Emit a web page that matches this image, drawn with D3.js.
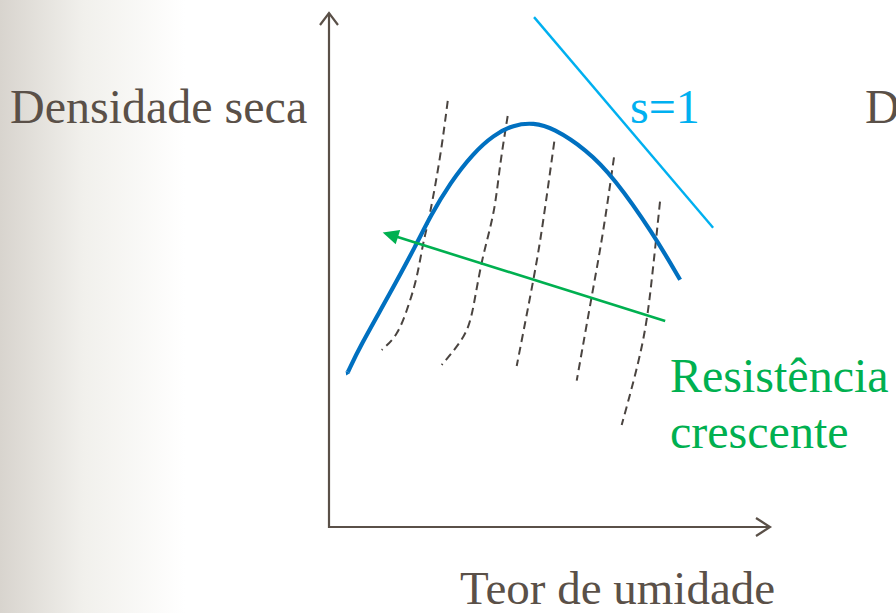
<!DOCTYPE html>
<html><head><meta charset="utf-8">
<script src="https://cdn.jsdelivr.net/npm/d3@7"></script>
<style>html,body{margin:0;padding:0;overflow:hidden;background:#fff}</style>
</head><body>
<svg id="c" width="896" height="613"></svg>
<script>
// Compaction curve (moisture %, dry density) – schematic units 0..100
const curveX = [4.3, 7.0, 13.9, 20.0, 23.0, 27.5, 32.8, 37.4, 41.9, 46.5, 50.9, 58.6, 64.6, 73.6, 79.8];
const curveY = [30.1, 35.0, 45.4, 55.1, 60.3, 66.8, 72.6, 76.1, 78.1, 78.5, 77.5, 73.2, 68.0, 57.1, 48.0];
// Saturation line s=1
const satX = [46.6, 87.3];
const satY = [99.0, 58.1];
// Increasing-strength arrow (from -> to)
const arrowX = [76.4, 12.2];
const arrowY = [40.0, 57.2];
// Iso-strength dashed curves
const isoX = [
  [26.98, 25.23, 22.95, 21.43, 19.93, 17.95, 15.39, 11.98],
  [40.61, 38.86, 37.34, 34.84, 32.80, 30.52, 25.61],
  [51.2, 48.7, 46.43, 42.66],
  [64.77, 62.34, 59.70, 56.3],
  [75.23, 73.34, 71.07, 66.52]
];
const isoY = [
  [82.72, 71.9, 60.97, 55.09, 48.6, 42.78, 37.61, 34.37],
  [79.81, 69.96, 60.91, 51.84, 42.78, 36.95, 31.46],
  [74.82, 59.61, 47.96, 31.26],
  [71.79, 57.67, 44.72, 28.41],
  [63.17, 47.96, 35.01, 19.81]
];
const labels = {
  y: "Densidade seca",
  x: "Teor de umidade",
  sat: "s=1",
  res1: "Resistência",
  res2: "crescente",
  cut: "D"
};

const svg = d3.select("#c");
const ink = "#5a5048";
const font = "Liberation Serif, Times New Roman, serif";

// background gradient
const defs = svg.append("defs");
const g = defs.append("linearGradient").attr("id","bg").attr("x1","0").attr("x2","1").attr("y1","0").attr("y2","0");
g.append("stop").attr("offset","0").attr("stop-color","#d8d4ce");
g.append("stop").attr("offset","0.45").attr("stop-color","#f1f0ec");
g.append("stop").attr("offset","1").attr("stop-color","#ffffff");
svg.append("rect").attr("width",896).attr("height",613).attr("fill","#fff");
svg.append("rect").attr("width",185).attr("height",613).attr("fill","url(#bg)");

const x = d3.scaleLinear().domain([0,100]).range([329,769]);
const y = d3.scaleLinear().domain([0,100]).range([527,12]);

// axes
svg.append("line").attr("x1",x(0)).attr("x2",x(0)).attr("y1",y(0)+1).attr("y2",y(100)+1)
  .attr("stroke",ink).attr("stroke-width",2.2);
svg.append("line").attr("x1",x(0)-1).attr("x2",x(100)).attr("y1",y(0)).attr("y2",y(0))
  .attr("stroke",ink).attr("stroke-width",2.2);
svg.append("path").attr("d",`M${x(0)-9},${y(100)+13}L${x(0)},${y(100)+1}L${x(0)+9},${y(100)+13}`)
  .attr("fill","none").attr("stroke",ink).attr("stroke-width",2.2);
svg.append("path").attr("d",`M${x(100)-13},${y(0)-9}L${x(100)+1},${y(0)}L${x(100)-13},${y(0)+9}`)
  .attr("fill","none").attr("stroke",ink).attr("stroke-width",2.2);

const line = d3.line().x(d=>x(d[0])).y(d=>y(d[1])).curve(d3.curveNatural);
const bline = d3.line().x(d=>x(d[0])).y(d=>y(d[1])).curve(d3.curveBasis);

// dashed iso lines
isoX.forEach((xs,i)=>{
  const pts = xs.map((v,j)=>[v,isoY[i][j]]);
  svg.append("path").attr("d",line(pts)).attr("fill","none")
    .attr("stroke","#4a4440").attr("stroke-width",2).attr("stroke-dasharray","8,5");
});

// compaction curve
const cpts = curveX.map((v,i)=>[v,curveY[i]]);
const full = [cpts[0], ...cpts, cpts[cpts.length-1]];
svg.append("path").attr("d",bline(full)).attr("fill","none")
  .attr("stroke","#0070c0").attr("stroke-width",4.2).attr("stroke-linecap","butt");
// tapered start
{
  const p0=[x(curveX[0]),y(curveY[0])], p1=[x(curveX[1]),y(curveY[1])];
  const dx=p1[0]-p0[0], dy=p1[1]-p0[1], L=Math.hypot(dx,dy), ux=dx/L, uy=dy/L;
  const nx=-uy, ny=ux;
  svg.append("path").attr("d",`M${p0[0]-ux*4},${p0[1]-uy*4}L${p0[0]+nx*2.6},${p0[1]+ny*2.6}L${p0[0]-nx*2.6},${p0[1]-ny*2.6}Z`)
    .attr("fill","#0070c0");
}

// saturation line
svg.append("line").attr("x1",x(satX[0])).attr("y1",y(satY[0])).attr("x2",x(satX[1])).attr("y2",y(satY[1]))
  .attr("stroke","#00b0f0").attr("stroke-width",2.4);

// green arrow
{
  const a=[x(arrowX[0]),y(arrowY[0])], b=[x(arrowX[1]),y(arrowY[1])];
  const dx=b[0]-a[0], dy=b[1]-a[1], L=Math.hypot(dx,dy), ux=dx/L, uy=dy/L, nx=-uy, ny=ux;
  const hl=16, hw=7.5;
  const bx=b[0]-ux*hl, by=b[1]-uy*hl;
  svg.append("line").attr("x1",a[0]).attr("y1",a[1]).attr("x2",bx+ux*2).attr("y2",by+uy*2)
    .attr("stroke","#00b050").attr("stroke-width",2.6);
  svg.append("path").attr("d",`M${b[0]},${b[1]}L${bx+nx*hw},${by+ny*hw}L${bx-nx*hw},${by-ny*hw}Z`)
    .attr("fill","#00b050");
}

// texts
const txt=(s,xx,yy,c,fs)=>svg.append("text").attr("x",xx).attr("y",yy).text(s)
  .attr("font-family",font).attr("font-size",fs||48).attr("fill",c);
txt(labels.y,10,123,ink);
txt(labels.cut,865,123,ink);
txt(labels.sat,630,123,"#00b0f0");
txt(labels.res1,670,392,"#00b050");
txt(labels.res2,670,448,"#00b050");
txt(labels.x,460,604,ink,47);
</script>
</body></html>
